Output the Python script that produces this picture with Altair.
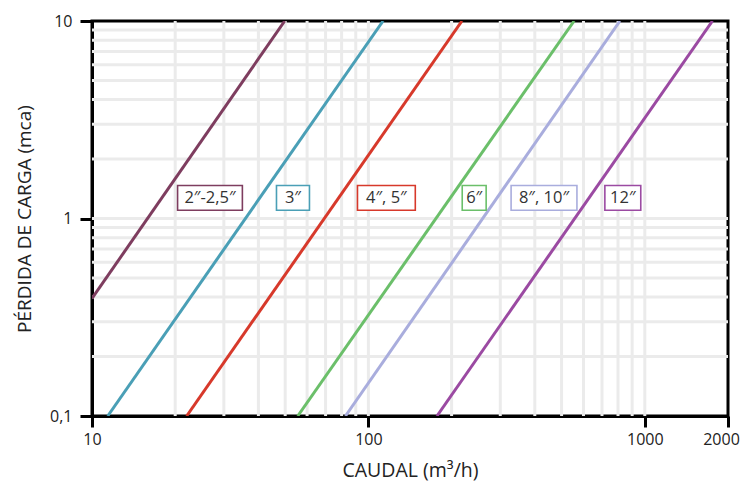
import altair as alt
import pandas as pd

# Series: endpoints of each straight (log-log) line
series = ["2″-2,5″", "3″", "4″, 5″", "6″", "8″, 10″", "12″"]
colors = ["#7e3d5f", "#4a9fb6", "#d7392b", "#6bbf6a", "#a9addd", "#9b4aa2"]
q_start = [10, 11.4, 22.0, 55.5, 82.6, 177]
h_start = [0.394, 0.1, 0.1, 0.1, 0.1, 0.1]
q_end = [49.8, 113, 218, 555, 813, 1757]
h_end = [10, 10, 10, 10, 10, 10]

# Label boxes (caudal extents) and heights
label_q_left = [20.4, 46.5, 91.3, 218.5, 328.3, 717]
label_q_right = [35.0, 61.2, 147.8, 266.7, 568.2, 967]
label_h_low = 1.10
label_h_high = 1.47
label_h_text = 1.27

# Axis ticks and grid values
x_ticks = [10, 100, 1000, 2000]
y_ticks = [0.1, 1, 10]
x_grid = [20, 30, 40, 50, 60, 70, 80, 90, 100, 200, 300, 400, 500, 600, 700, 800, 900, 1000]
y_grid = [0.2, 0.3, 0.4, 0.5, 0.6, 0.7, 0.8, 0.9, 1, 2, 3, 4, 5, 6, 7, 8, 9]

FONT = "Open Sans"

rows = []
for s, q0, h0, q1, h1 in zip(series, q_start, h_start, q_end, h_end):
    rows.append({"serie": s, "q": q0, "h": h0, "order": 0})
    rows.append({"serie": s, "q": q1, "h": h1, "order": 1})
lines_df = pd.DataFrame(rows)

labels_df = pd.DataFrame({
    "serie": series,
    "ql": label_q_left,
    "qr": label_q_right,
    "qc": [(a * b) ** 0.5 for a, b in zip(label_q_left, label_q_right)],
    "hl": [label_h_low] * len(series),
    "hh": [label_h_high] * len(series),
    "ht": [label_h_text] * len(series),
})

xscale = alt.Scale(type="log", domain=[10, 2000], nice=False)
yscale = alt.Scale(type="log", domain=[0.1, 10], nice=False)
cscale = alt.Scale(domain=series, range=colors)

vgrid = alt.Chart(pd.DataFrame({"q": x_grid})).mark_rule(
    color="#ebebeb", strokeWidth=3
).encode(x=alt.X("q:Q", scale=xscale))

hgrid = alt.Chart(pd.DataFrame({"h": y_grid})).mark_rule(
    color="#ebebeb", strokeWidth=3
).encode(y=alt.Y("h:Q", scale=yscale))

lines = alt.Chart(lines_df).mark_line(strokeWidth=3, clip=True).encode(
    x=alt.X(
        "q:Q",
        scale=xscale,
        title="CAUDAL (m³/h)",
        axis=alt.Axis(
            values=x_ticks,
            labelExpr="datum.value",
            labelOffset=alt.ExprRef(expr="datum.value == 2000 ? -7 : 0"),
            grid=False,
            domainColor="black",
            domainWidth=3,
            tickColor="black",
            tickWidth=3,
            tickSize=11,
            labelFont=FONT,
            labelFontSize=16,
            labelColor="#222222",
            labelPadding=4,
            labelFlush=False,
            titleFont=FONT,
            titleFontSize=19.5,
            titleFontWeight="normal",
            titleColor="#222222",
            titlePadding=14,
        ),
    ),
    y=alt.Y(
        "h:Q",
        scale=yscale,
        title="PÉRDIDA DE CARGA (mca)",
        axis=alt.Axis(
            values=y_ticks,
            labelExpr="replace(format(datum.value, '~g'), '.', ',')",
            grid=False,
            domainColor="black",
            domainWidth=3,
            tickColor="black",
            tickWidth=3,
            tickSize=12,
            labelFont=FONT,
            labelFontSize=16,
            labelColor="#222222",
            labelPadding=8,
            labelFlush=False,
            titleFont=FONT,
            titleFontSize=19,
            titleFontWeight="normal",
            titleColor="#222222",
            titlePadding=15,
        ),
    ),
    color=alt.Color("serie:N", scale=cscale, legend=None),
    detail="serie:N",
    order="order:Q",
)

boxes = alt.Chart(labels_df).mark_rect(fill="white", strokeWidth=1.6).encode(
    x=alt.X("ql:Q", scale=xscale),
    x2="qr:Q",
    y=alt.Y("hl:Q", scale=yscale),
    y2="hh:Q",
    stroke=alt.Color("serie:N", scale=cscale, legend=None),
)

texts = alt.Chart(labels_df).mark_text(
    font=FONT, fontSize=16.5, color="#333333", baseline="middle", align="center"
).encode(
    x=alt.X("qc:Q", scale=xscale),
    y=alt.Y("ht:Q", scale=yscale),
    text="serie:N",
)

chart = alt.layer(vgrid, hgrid, lines, boxes, texts).properties(
    width=636,
    height=395,
    autosize=alt.AutoSizeParams(type="none"),
    padding={"left": 84, "top": 13, "right": 12, "bottom": 68},
).configure_view(stroke="black", strokeWidth=3)

chart.save("out.html", embed_options={"renderer": "svg", "actions": False})
